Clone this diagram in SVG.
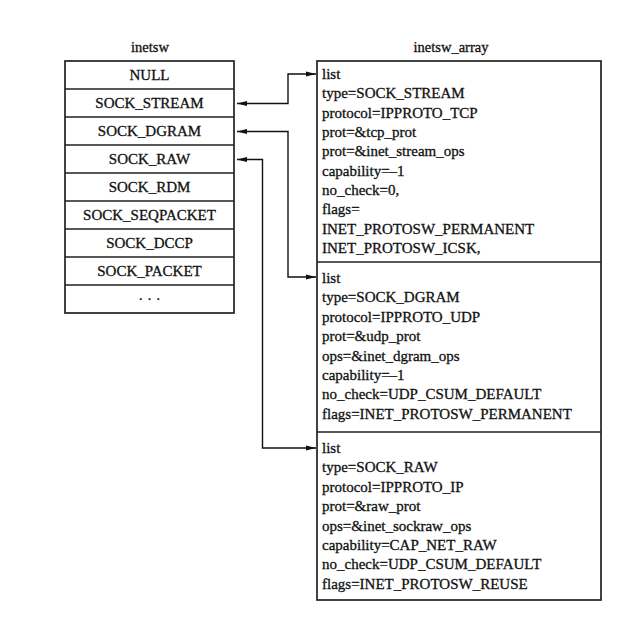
<svg xmlns="http://www.w3.org/2000/svg" width="644" height="623" viewBox="0 0 644 623">
<style>
text { font-family: "Liberation Serif", "Times New Roman", serif; fill: #111; stroke: #111; stroke-width: 0.3; }
.t { font-size: 14.5px; text-anchor: middle; }
.c { font-size: 15px; text-anchor: middle; }
.f { font-size: 15px; }
.box { fill: #fff; stroke: #222; stroke-width: 1.7; }
.div { stroke: #222; stroke-width: 1.3; fill: none; }
.con { stroke: #111; stroke-width: 1.4; fill: none; marker-start: url(#ah); marker-end: url(#ah); }
</style>
<defs>
<marker id="ah" markerUnits="userSpaceOnUse" markerWidth="11" markerHeight="6" refX="10" refY="3" orient="auto-start-reverse" viewBox="0 0 11 6">
<path d="M0,0.6 L10,3 L0,5.4 z" fill="#111"/>
</marker>
</defs>
<rect width="644" height="623" fill="#fff"/>

<g id="inetsw">
<text class="t" x="150" y="52">inetsw</text>
<rect class="box" x="65" y="61" width="169" height="252"/>
<path class="div" d="M65 89H234M65 117H234M65 145H234M65 173H234M65 201H234M65 229H234M65 257H234M65 285H234"/>
<text class="c" x="149.5" y="80.3">NULL</text>
<text class="c" x="149.5" y="108.3">SOCK_STREAM</text>
<text class="c" x="149.5" y="136.3">SOCK_DGRAM</text>
<text class="c" x="149.5" y="164.3">SOCK_RAW</text>
<text class="c" x="149.5" y="192.3">SOCK_RDM</text>
<text class="c" x="149.5" y="220.3">SOCK_SEQPACKET</text>
<text class="c" x="149.5" y="248.3">SOCK_DCCP</text>
<text class="c" x="149.5" y="276.3">SOCK_PACKET</text>
<text class="c" x="149.5" y="303.5">· · ·</text>
</g>

<g id="inetsw_array">
<text class="t" x="451" y="52">inetsw_array</text>
<rect class="box" x="317" y="61" width="284" height="539"/>
<path class="div" d="M317 262H601M317 432H601"/>
</g>

<g id="entry_stream">
<text class="f" x="322" y="79">list</text>
<text class="f" x="322" y="98.4">type=SOCK_STREAM</text>
<text class="f" x="322" y="117.7">protocol=IPPROTO_TCP</text>
<text class="f" x="322" y="137">prot=&amp;tcp_prot</text>
<text class="f" x="322" y="156.4">prot=&amp;inet_stream_ops</text>
<text class="f" x="322" y="175.7">capability=–1</text>
<text class="f" x="322" y="195">no_check=0,</text>
<text class="f" x="322" y="214.4">flags=</text>
<text class="f" x="322" y="233.8">INET_PROTOSW_PERMANENT</text>
<text class="f" x="322" y="253.1">INET_PROTOSW_ICSK,</text>
</g>

<g id="entry_dgram">
<text class="f" x="322" y="283">list</text>
<text class="f" x="322" y="302.4">type=SOCK_DGRAM</text>
<text class="f" x="322" y="321.8">protocol=IPPROTO_UDP</text>
<text class="f" x="322" y="341.2">prot=&amp;udp_prot</text>
<text class="f" x="322" y="360.6">ops=&amp;inet_dgram_ops</text>
<text class="f" x="322" y="380">capability=–1</text>
<text class="f" x="322" y="399.4">no_check=UDP_CSUM_DEFAULT</text>
<text class="f" x="322" y="418.8">flags=INET_PROTOSW_PERMANENT</text>
</g>

<g id="entry_raw">
<text class="f" x="322" y="453">list</text>
<text class="f" x="322" y="472.4">type=SOCK_RAW</text>
<text class="f" x="322" y="491.8">protocol=IPPROTO_IP</text>
<text class="f" x="322" y="511.2">prot=&amp;raw_prot</text>
<text class="f" x="322" y="530.6">ops=&amp;inet_sockraw_ops</text>
<text class="f" x="322" y="550">capability=CAP_NET_RAW</text>
<text class="f" x="322" y="569.4">no_check=UDP_CSUM_DEFAULT</text>
<text class="f" x="322" y="588.8">flags=INET_PROTOSW_REUSE</text>
</g>

<g id="connectors">
<path class="con" d="M237 103.5H288V74H316"/>
<path class="con" d="M237 131.5H288V277H316"/>
<path class="con" d="M237 159.5H262.5V448H316"/>
</g>
</svg>
